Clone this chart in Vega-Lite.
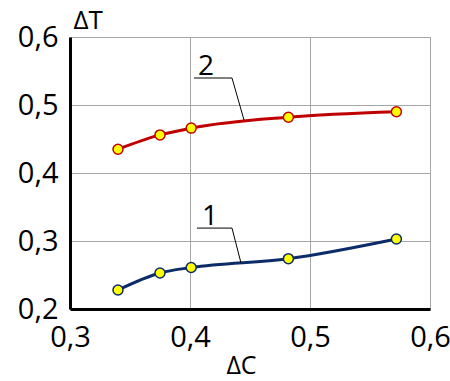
{
  "$schema": "https://vega.github.io/schema/vega-lite/v6.json",
  "width": 360,
  "height": 272,
  "autosize": {"type": "none"},
  "padding": {"left": 70, "top": 37, "right": 20, "bottom": 72},
  "background": "white",
  "config": {
    "view": {"stroke": "#a6a6a6", "strokeWidth": 1},
    "font": "Open Sans"
  },
  "datasets": {
    "points": [
      {"dC": 0.340, "dT": 0.228, "series": "1"},
      {"dC": 0.375, "dT": 0.253, "series": "1"},
      {"dC": 0.401, "dT": 0.261, "series": "1"},
      {"dC": 0.482, "dT": 0.274, "series": "1"},
      {"dC": 0.572, "dT": 0.303, "series": "1"},
      {"dC": 0.340, "dT": 0.435, "series": "2"},
      {"dC": 0.375, "dT": 0.456, "series": "2"},
      {"dC": 0.401, "dT": 0.466, "series": "2"},
      {"dC": 0.482, "dT": 0.482, "series": "2"},
      {"dC": 0.572, "dT": 0.490, "series": "2"}
    ],
    "leaders": [
      {"dC": 0.4058, "dT": 0.319, "seq": 1, "series": "1"},
      {"dC": 0.435, "dT": 0.319, "seq": 2, "series": "1"},
      {"dC": 0.4425, "dT": 0.2676, "seq": 3, "series": "1"},
      {"dC": 0.4033, "dT": 0.5397, "seq": 1, "series": "2"},
      {"dC": 0.435, "dT": 0.5397, "seq": 2, "series": "2"},
      {"dC": 0.445, "dT": 0.478, "seq": 3, "series": "2"}
    ],
    "labels": [
      {"dC": 0.4167, "dT": 0.3235, "label": "1"},
      {"dC": 0.4133, "dT": 0.5441, "label": "2"}
    ]
  },
  "layer": [
    {
      "data": {"name": "points"},
      "mark": {"type": "line", "interpolate": "monotone", "strokeWidth": 3},
      "encoding": {
        "x": {
          "field": "dC", "type": "quantitative",
          "scale": {"domain": [0.3, 0.6], "nice": false, "zero": false},
          "axis": {
            "title": "ΔC", "values": [0.3, 0.4, 0.5, 0.6],
            "labelExpr": "replace(format(datum.value, '.1f'), '.', ',')",
            "labelFontSize": 29, "labelColor": "#000", "labelPadding": 14,
            "labelFlush": false,
            "ticks": false, "domainColor": "#000", "domainWidth": 3,
            "gridColor": "#a6a6a6", "gridWidth": 1, "gridOpacity": 1,
            "titleFontSize": 25, "titleFontWeight": "normal", "titleColor": "#000",
            "titleX": 171, "titleY": 64, "titleAlign": "center", "titleBaseline": "alphabetic"
          }
        },
        "y": {
          "field": "dT", "type": "quantitative",
          "scale": {"domain": [0.2, 0.6], "nice": false, "zero": false},
          "axis": {
            "title": "ΔT", "values": [0.2, 0.3, 0.4, 0.5, 0.6],
            "labelExpr": "replace(format(datum.value, '.1f'), '.', ',')",
            "labelFontSize": 29, "labelColor": "#000", "labelPadding": 12,
            "labelFlush": false,
            "ticks": false, "domainColor": "#000", "domainWidth": 3,
            "gridColor": "#a6a6a6", "gridWidth": 1, "gridOpacity": 1,
            "titleFontSize": 26, "titleFontWeight": "normal", "titleColor": "#000",
            "titleAngle": 0, "titleX": 3, "titleY": -9, "titleAlign": "left", "titleBaseline": "alphabetic"
          }
        },
        "color": {
          "field": "series", "type": "nominal",
          "scale": {"domain": ["1", "2"], "range": ["#0c2c69", "#c00000"]},
          "legend": null
        }
      }
    },
    {
      "data": {"name": "points"},
      "mark": {"type": "point", "filled": true, "fill": "#ffff00", "size": 100, "strokeWidth": 1.5, "opacity": 1},
      "encoding": {
        "x": {"field": "dC", "type": "quantitative"},
        "y": {"field": "dT", "type": "quantitative"},
        "stroke": {
          "field": "series", "type": "nominal",
          "scale": {"domain": ["1", "2"], "range": ["#0c2c69", "#c00000"]},
          "legend": null
        }
      }
    },
    {
      "data": {"name": "leaders"},
      "mark": {"type": "line", "color": "#000", "strokeWidth": 1},
      "encoding": {
        "x": {"field": "dC", "type": "quantitative"},
        "y": {"field": "dT", "type": "quantitative"},
        "detail": {"field": "series"},
        "order": {"field": "seq"}
      }
    },
    {
      "data": {"name": "labels"},
      "mark": {"type": "text", "fontSize": 28, "color": "#000", "align": "center", "baseline": "alphabetic"},
      "encoding": {
        "x": {"field": "dC", "type": "quantitative"},
        "y": {"field": "dT", "type": "quantitative"},
        "text": {"field": "label"}
      }
    }
  ]
}
